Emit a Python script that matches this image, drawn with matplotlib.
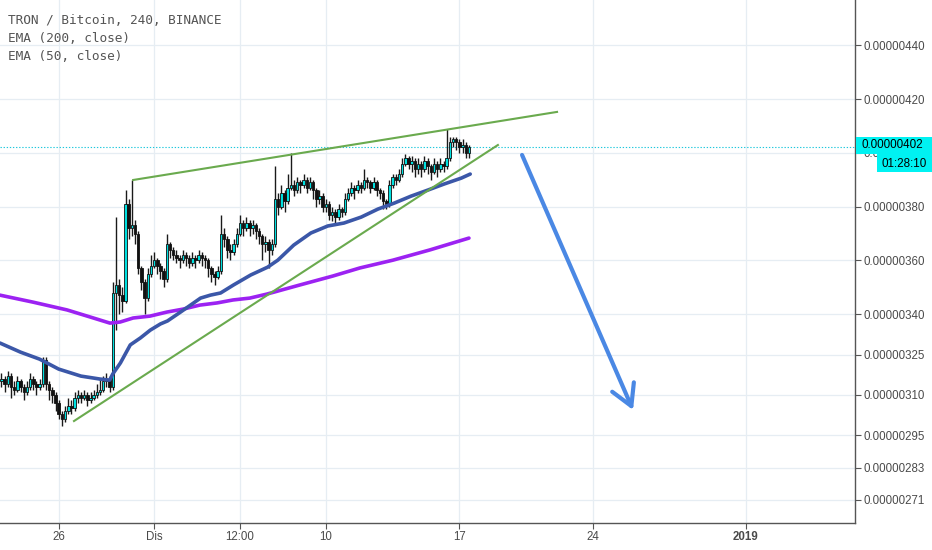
import matplotlib
matplotlib.use("Agg")
import matplotlib.pyplot as plt
import matplotlib.dates as mdates
import numpy as np
import pandas as pd
from matplotlib.patches import Rectangle

# ---------------- data (price unit = 1e-8 BTC) ----------------
start = "2018-11-23 00:00"
first_open = 315
closes = [316, 314, 317, 313, 312, 315, 313, 311, 313, 316, 314, 313,
          314, 323, 314, 312, 310, 307, 303, 301, 304, 306, 305, 309,
          310, 309, 310, 308, 309, 310, 311, 312, 315, 316, 313, 348,
          351, 347, 345, 381, 372, 373, 370, 357, 352, 346, 355, 358,
          360, 358, 356, 353, 366, 364, 362, 361, 360, 362, 361, 359,
          361, 360, 362, 361, 360, 357, 355, 354, 356, 370, 368, 364,
          363, 366, 370, 374, 372, 374, 372, 373, 371, 369, 366, 367,
          364, 366, 383, 380, 385, 382, 387, 388, 386, 389, 388, 390,
          387, 389, 386, 383, 384, 380, 381, 377, 378, 376, 379, 378,
          383, 385, 387, 386, 388, 387, 390, 389, 387, 389, 386, 385,
          382, 381, 388, 391, 390, 392, 396, 398, 396, 397, 394, 396,
          394, 397, 395, 393, 396, 394, 396, 395, 398, 404, 405, 404,
          402, 403, 400, 402]
highs = [318, 317, 319, 318, 315, 317, 316, 314, 315, 318, 317, 315,
         316, 324, 324, 315, 313, 311, 308, 304, 306, 309, 308, 311,
         312, 311, 312, 311, 311, 312, 314, 316, 317, 318, 317, 352,
         376, 353, 350, 386, 383, 390, 375, 371, 358, 353, 357, 362,
         363, 361, 359, 357, 370, 367, 365, 364, 362, 364, 363, 362,
         363, 362, 364, 363, 362, 361, 358, 356, 358, 377, 372, 369,
         366, 368, 372, 377, 375, 376, 375, 375, 374, 372, 370, 369,
         368, 368, 395, 385, 388, 386, 392, 400, 390, 391, 390, 392,
         391, 391, 390, 387, 386, 385, 383, 382, 380, 379, 381, 380,
         385, 387, 389, 388, 390, 389, 394, 391, 390, 391, 390, 387,
         386, 383, 390, 392, 392, 394, 398, 399.5, 399, 399, 398, 398,
         397, 399, 398, 396, 398, 397, 398, 397, 409, 406, 406, 406,
         405, 405, 404, 403]
lows = [313, 311, 313, 309, 310, 311, 311, 308, 310, 312, 312, 310,
        312, 313, 312, 308, 307, 304, 301, 298.5, 300, 303, 303, 304,
        307, 307, 308, 306, 307, 308, 309, 310, 311, 313, 311, 312,
        334, 340, 341, 344, 368, 369, 366, 355, 349, 340, 345, 354,
        357, 355, 353, 350, 352, 361, 360, 359, 357, 359, 358, 357,
        358, 357, 359, 358, 357, 354, 352, 351, 353, 355, 365, 361,
        360, 362, 365, 369, 369, 371, 369, 370, 368, 366, 360, 363,
        357, 362, 365, 377, 379, 378, 381, 386, 384, 385, 385, 387,
        385, 386, 383, 380, 381, 378, 378, 375, 374.5, 374, 375, 376,
        377, 382, 384, 383, 385, 385, 386, 387, 385, 386, 384, 383,
        379, 379, 380, 387, 388, 389, 391, 395, 394, 393, 391, 392,
        391, 393, 392, 390, 392, 391, 393, 393, 394, 397, 402, 401,
        400, 400, 398, 398]

# EMA lines: positions in 4h-candle units from start, values
ema50_pos = [-0.5, 6, 12, 18, 25, 31, 34, 35, 37.4, 40.5, 43.7, 46.8, 50,
             52.2, 56.3, 62.6, 65.7, 68.9, 73, 78.4, 83.7, 86.9, 91.9,
             97.3, 102.6, 107.7, 113.1, 118.4, 123.5, 128.8, 134.2,
             139.2, 144.6, 147.4]
ema50_val = [329.3, 325.9, 323.3, 319.6, 317.0, 315.9, 315.5, 317.8,
             321.9, 328.6, 331.2, 334.1, 336.4, 337.5, 340.8, 346.0,
             347.1, 347.9, 350.9, 354.6, 357.5, 360.1, 365.7, 370.2,
             372.8, 373.9, 376.1, 379.1, 381.3, 383.9, 386.2, 388.4,
             390.6, 392.1]
ema200_pos = [-0.5, 9.9, 20.6, 27.8, 34.1, 37.3, 41.4, 46.7, 52, 57.1,
              62.4, 67.8, 72.8, 78.1, 83.5, 93.9, 104.2, 112.7, 123.1,
              134.7, 147]
ema200_val = [347.1, 344.5, 341.6, 339.0, 336.7, 337.1, 338.6, 339.3,
              340.8, 341.9, 343.4, 344.2, 345.3, 346.0, 347.5, 350.9,
              354.2, 357.2, 360.1, 363.9, 368.3]

# drawn wedge lines and arrow (candle position, price)
wedge_upper = [(41.4, 389.9), (174.7, 415.2)]
wedge_lower = [(22.8, 300.3), (156.1, 402.9)]
arrow_line = [(163.7, 399.2), (198.6, 304.4)]

y_ticks = [271, 283, 295, 310, 325, 340, 360, 380, 400, 420, 440]
x_tick_dates = ["2018-11-26 00:00", "2018-12-01 00:00", "2018-12-05 12:00",
                "2018-12-10 00:00", "2018-12-17 00:00", "2018-12-24 00:00",
                "2019-01-01 00:00"]
x_tick_labels = ["26", "Dis", "12:00", "10", "17", "24", "2019"]

title_lines = ["TRON / Bitcoin, 240, BINANCE", "EMA (200, close)",
               "EMA (50, close)"]
last_price_label = "0.00000402"
countdown_label = "01:28:10"

# ---------------- plotting ----------------
W, H = 932, 550
fig = plt.figure(figsize=(W / 100, H / 100), dpi=100)
fig.patch.set_facecolor("white")
ax = fig.add_axes([0, 27 / H, 855 / W, 523 / H])

x0 = mdates.date2num(pd.Timestamp(start))
step = 1 / 6.0


def pos2x(p):
    return x0 + np.asarray(p, dtype=float) * step


n = len(closes)
opens = [first_open] + closes[:-1]
times = mdates.date2num(pd.date_range(start, periods=n, freq="4h"))
o = np.array(opens, float)
c = np.array(closes, float)
hi = np.array(highs, float)
lo = np.array(lows, float)
up = c >= o

ax.vlines(times, lo, hi, color="#1a1a1a", lw=1.0, zorder=3)
bw = step * 0.78
ax.bar(times[up], (c - o)[up], bottom=o[up], width=bw, color="#00E0E0",
       edgecolor="#111111", linewidth=0.6, zorder=4)
ax.bar(times[~up], (o - c)[~up], bottom=c[~up], width=bw, color="#111111",
       edgecolor="#111111", linewidth=0.6, zorder=4)

ax.plot(pos2x(ema200_pos), ema200_val, color="#9C22F2", lw=2.6,
        solid_capstyle="round", solid_joinstyle="round", zorder=5)
ax.plot(pos2x(ema50_pos), ema50_val, color="#3B57A8", lw=2.6,
        solid_capstyle="round", solid_joinstyle="round", zorder=5)

for seg in (wedge_upper, wedge_lower):
    xs = pos2x([p[0] for p in seg])
    ys = [p[1] for p in seg]
    ax.plot(xs, ys, color="#6AAA4E", lw=1.5, zorder=6)

ax.annotate("", xy=(pos2x(arrow_line[1][0]), arrow_line[1][1]),
            xytext=(pos2x(arrow_line[0][0]), arrow_line[0][1]),
            arrowprops=dict(arrowstyle="->,head_length=15,head_width=8.5",
                            mutation_scale=1, color="#4A88E4", lw=3.0,
                            shrinkA=0, shrinkB=0),
            zorder=7)

# last price dotted line
ax.axhline(closes[-1], color="#1EC8DC", lw=0.8, ls=(0, (1.2, 1.6)), zorder=2)

ax.set_xlim(x0 - 0.47 * step, x0 + 268.4 * step)
ax.set_ylim(262.4, 456.8)

ax.yaxis.tick_right()
ax.set_yticks(y_ticks)
ax.set_yticklabels([f"{v * 1e-8:.8f}" for v in y_ticks])
ax.set_xticks(mdates.date2num(pd.to_datetime(x_tick_dates, format="%Y-%m-%d %H:%M")))
ax.set_xticklabels(x_tick_labels)
for lab in ax.get_xticklabels():
    if lab.get_text() == "2019":
        lab.set_fontweight("bold")
ax.tick_params(axis="both", colors="#555555", labelcolor="#4a4a4a",
               labelsize=8.3, length=4, width=0.8, pad=2)
for lab in ax.get_xticklabels() + ax.get_yticklabels():
    lab.set_family("Liberation Sans")

ax.grid(True, color="#E6EDF3", lw=0.9, zorder=0)
ax.set_axisbelow(True)
for s in ("top", "left"):
    ax.spines[s].set_visible(False)
for s in ("right", "bottom"):
    ax.spines[s].set_color("#555555")
    ax.spines[s].set_linewidth(1.0)

# header texts
for k, t in enumerate(title_lines):
    fig.text(8 / W, 1 - (20 + 18 * k) / H, t, family="DejaVu Sans Mono",
             fontsize=9.2, color="#555555", va="center", ha="left")

# price label boxes
fig.add_artist(Rectangle((856 / W, 1 - 154 / H), 76 / W, 17 / H,
                         transform=fig.transFigure, facecolor="#00F2F2",
                         edgecolor="none", zorder=5))
fig.text(862 / W, 1 - 145.5 / H, last_price_label, family="Liberation Sans",
         fontsize=8.4, color="#000000", va="center", ha="left", zorder=6)
fig.add_artist(Rectangle((877 / W, 1 - 172 / H), 55 / W, 18 / H,
                         transform=fig.transFigure, facecolor="#00F2F2",
                         edgecolor="none", zorder=5))
fig.text(904 / W, 1 - 163.5 / H, countdown_label, family="Liberation Sans",
         fontsize=8.4, color="#000000", va="center", ha="center", zorder=6)

fig.savefig("out.png", dpi=100, facecolor="white")
